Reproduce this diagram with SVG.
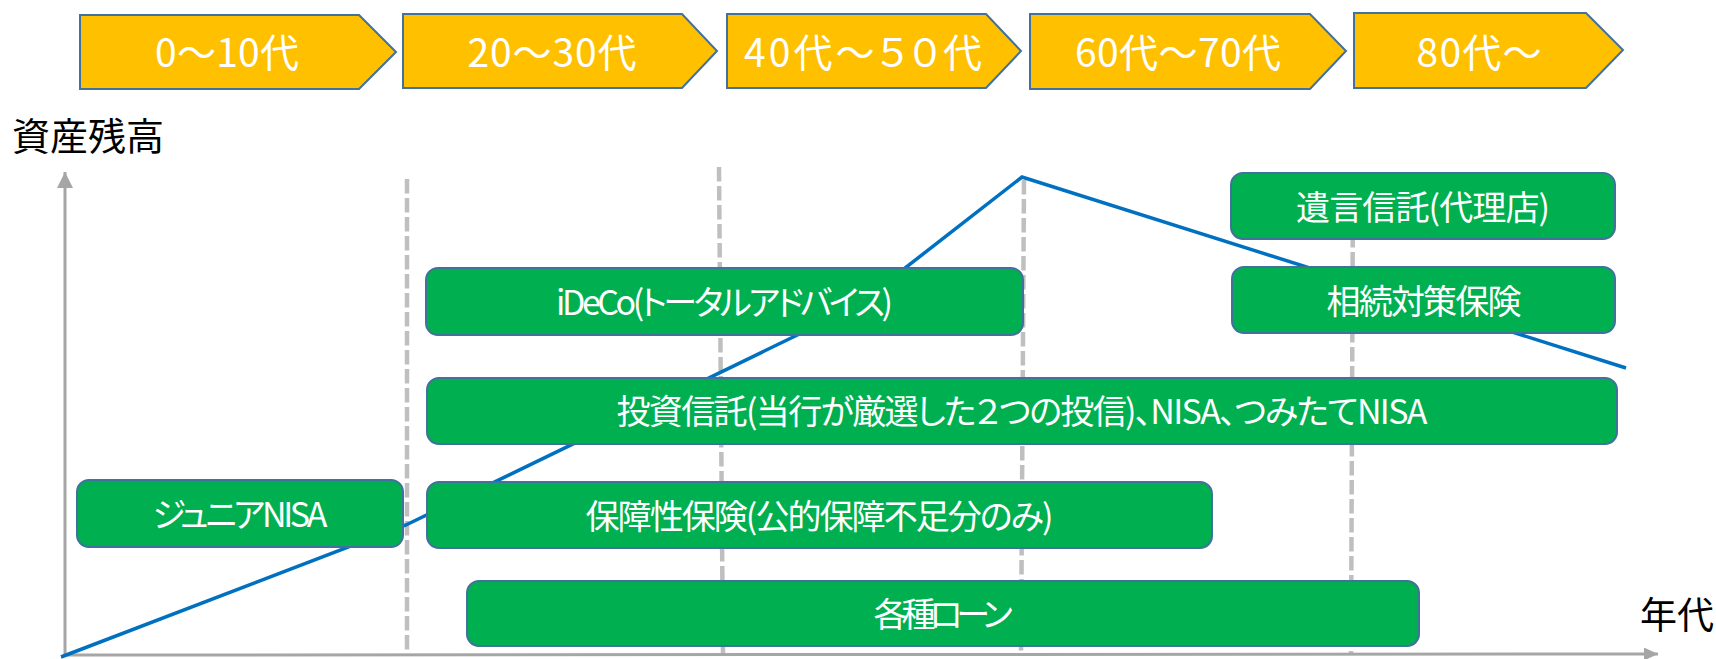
<svg xmlns="http://www.w3.org/2000/svg" width="1716" height="659" viewBox="0 0 1716 659">
  <style>
    text { font-family: "Noto Sans CJK JP", "Noto Sans", sans-serif; font-feature-settings: "palt" 1; }
    .chev { fill: #FFC000; stroke: #41719C; stroke-width: 2; }
    .chevt { fill: #FFFFFF; font-size: 39px; text-anchor: middle; }
    .box { fill: #00B050; stroke: #41719C; stroke-width: 2; }
    .boxt { fill: #FFFFFF; font-size: 34px; text-anchor: middle; }
    .lbl { fill: #000000; font-size: 38px; }
    .dash { stroke: #BFBFBF; stroke-width: 4.5; stroke-dasharray: 14.5 4.5; fill: none; }
    .axis { stroke: #A6A6A6; stroke-width: 3; fill: none; }
    .trend { stroke: #0070C0; stroke-width: 3.5; fill: none; stroke-linejoin: miter; }
  </style>
  <defs>
    <marker id="arrowV" markerUnits="userSpaceOnUse" markerWidth="16" markerHeight="16" refX="16" refY="8" orient="auto">
      <path d="M0,0 L16,8 L0,16 z" fill="#A6A6A6"/>
    </marker>
    <marker id="arrowH" markerUnits="userSpaceOnUse" markerWidth="14" markerHeight="13" refX="14" refY="6.5" orient="auto">
      <path d="M0,0 L14,6.5 L0,13 z" fill="#A6A6A6"/>
    </marker>
  </defs>

  <!-- timeline chevrons -->
  <g id="age-0-10">
    <polygon class="chev" points="80,15 359,15 396,52 359,89 80,89"/>
    <text class="chevt" x="227" y="67" textLength="144">0～10代</text>
  </g>
  <g id="age-20-30">
    <polygon class="chev" points="403,14 682,14 717,51 682,88 403,88"/>
    <text class="chevt" x="552" y="67" textLength="169">20～30代</text>
  </g>
  <g id="age-40-50">
    <polygon class="chev" points="727,14 986,14 1021,51 986,88 727,88"/>
    <text class="chevt" x="863" y="67" textLength="238">40代～５０代</text>
  </g>
  <g id="age-60-70">
    <polygon class="chev" points="1030,14 1310,14 1346,51 1310,89 1030,89"/>
    <text class="chevt" x="1178" y="67" textLength="206">60代～70代</text>
  </g>
  <g id="age-80">
    <polygon class="chev" points="1354,13 1586,13 1623,50 1586,88 1354,88"/>
    <text class="chevt" x="1479" y="67" textLength="125">80代～</text>
  </g>

  <!-- axis labels -->
  <text class="lbl" x="12" y="150">資産残高</text>
  <text class="lbl" x="1640" y="629" style="font-size:37px">年代</text>

  <!-- guide lines and axes -->
  <g id="connectors">
    <line class="dash" x1="407" y1="179" x2="407" y2="655"/>
    <line class="dash" x1="719" y1="167" x2="723" y2="655"/>
    <line class="dash" x1="1024" y1="180" x2="1021" y2="655"/>
    <line class="dash" x1="1353" y1="176" x2="1351" y2="655"/>
    <line class="axis" x1="65" y1="656" x2="65" y2="172" marker-end="url(#arrowV)"/>
    <line class="axis" x1="64" y1="655" x2="1658" y2="654" marker-end="url(#arrowH)"/>
    <polyline class="trend" points="61,657 406,525 855,307 1022,177 1626,368"/>
  </g>

  <!-- product boxes -->
  <g id="junior-nisa">
    <rect class="box" x="77" y="480" width="326" height="67" rx="12"/>
    <text class="boxt" x="240" y="527" textLength="175">ジュニアNISA</text>
  </g>
  <g id="hosho-hoken">
    <rect class="box" x="427" y="482" width="785" height="66" rx="12"/>
    <text class="boxt" x="819.5" y="528.5" textLength="468">保障性保険(公的保障不足分のみ)</text>
  </g>
  <g id="loan">
    <rect class="box" x="467" y="581" width="952" height="65" rx="12"/>
    <text class="boxt" x="943" y="627" textLength="139">各種ローン</text>
  </g>
  <g id="ideco">
    <rect class="box" x="426" y="268" width="597" height="67" rx="12"/>
    <text class="boxt" x="724.5" y="315" textLength="337">iDeCo(トータルアドバイス)</text>
  </g>
  <g id="toushin">
    <rect class="box" x="427" y="378" width="1190" height="66" rx="12"/>
    <text class="boxt" x="1022" y="424" textLength="811">投資信託(当行が厳選した２つの投信)、NISA、つみたてNISA</text>
  </g>
  <g id="yuigon">
    <rect class="box" x="1231" y="173" width="384" height="66" rx="12"/>
    <text class="boxt" x="1423" y="219.5" textLength="254">遺言信託(代理店)</text>
  </g>
  <g id="souzoku">
    <rect class="box" x="1232" y="267" width="383" height="66" rx="12"/>
    <text class="boxt" x="1424" y="313.5" textLength="195">相続対策保険</text>
  </g>
</svg>
